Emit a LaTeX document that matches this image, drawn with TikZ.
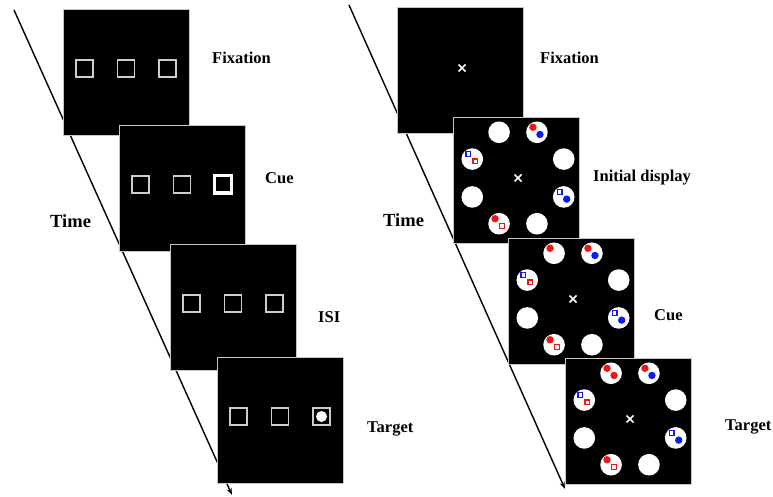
\documentclass[tikz,border=0pt]{standalone}
\usepackage{fontspec}
\setmainfont{Liberation Serif}
\usetikzlibrary{arrows.meta}
\definecolor{sred}{RGB}{240,20,20}
\definecolor{sblue}{RGB}{15,25,240}
\definecolor{sqgray}{RGB}{205,205,205}
\tikzset{
  panel/.style={fill=black, draw=gray!45, line width=0.8pt, minimum width=126pt, minimum height=126pt, inner sep=0pt},
  sq/.style={draw=sqgray, line width=1.1pt},
  thicksq/.style={draw=white, line width=3pt},
  lbl/.style={font=\bfseries\fontsize{16.5}{18}\selectfont, anchor=base west, inner sep=0pt},
  tlbl/.style={font=\bfseries\fontsize{18.5}{20}\selectfont, anchor=base west, inner sep=0pt},
  timeline/.style={line width=1.4pt, -{Stealth[length=7pt,width=5pt]}},
  xmark/.style={draw=white, line width=1.6pt},
}
\newcommand{\lsquares}[2]{\foreach \dx in {#2} \draw[sq] ([shift={(\dx-8.5,-12)}]#1.center) rectangle +(17,17);}
\newcommand{\ring}[1]{\foreach \i in {1,...,8}{\coordinate (#1c\i) at ([shift={({2+49.5*cos(45*\i-22.5)},{-2-49.5*sin(45*\i-22.5)})}]#1.center); \fill[white] (#1c\i) circle (10.8);}}
\newcommand{\sdot}[3]{\fill[#2] ([shift={(#3)}]#1) circle (3.7);}
\newcommand{\ssq}[3]{\draw[#2, line width=1.3pt] ([shift={(#3)}]#1) ++(-2.25,-2.25) rectangle ++(4.5,4.5);}
\newcommand{\fixx}[1]{\draw[xmark] ([shift={(2,-2)}]#1.center) +(-3.5,-3.5) -- +(3.5,3.5) +(-3.5,3.5) -- +(3.5,-3.5);}
\newcommand{\basestim}[1]{%
  \ring{#1}\fixx{#1}%
  \sdot{#1c2}{sred}{-4,-5}\sdot{#1c2}{sblue}{3,2.2}%
  \ssq{#1c4}{sblue}{-4,-5}\ssq{#1c4}{sred}{3,2.2}%
  \sdot{#1c6}{sred}{-4,-5}\ssq{#1c6}{sred}{3,2.2}%
  \ssq{#1c8}{sblue}{-4,-5}\sdot{#1c8}{sblue}{3,2.2}}
\begin{document}
\begin{tikzpicture}[x=1pt,y=-1pt]
\useasboundingbox (0,0) rectangle (773,497);
% time arrows (behind panels)
\coordinate (tl0) at (14,10); \coordinate (tl1) at (232,495);
\draw[timeline] (tl0) -- (tl1);
\coordinate (tr0) at (349,5); \coordinate (tr1) at (565,489);
\draw[timeline] (tr0) -- (tr1);
% left sequence
\node[panel] (L1) at (126,72) {};
\lsquares{L1}{-41.5,0,41.5}
\node[panel] (L2) at (182,188) {};
\lsquares{L2}{-41.5,0}
\draw[thicksq] ([shift={(41-8.5,-12)}]L2.center) rectangle +(17,17);
\node[panel] (L3) at (233,307) {};
\lsquares{L3}{-41.5,0,41.5}
\node[panel] (L4) at (280,420) {};
\lsquares{L4}{-41.5,0,41.5}
\fill[white] ([shift={(41.5,-3.5)}]L4.center) circle (5.5);
% right sequence
\node[panel] (R1) at (460,70) {};
\fixx{R1}
\node[panel] (R2) at (516,180) {};
\basestim{R2}
\node[panel] (R3) at (571,301) {};
\basestim{R3}
\sdot{R3c3}{sred}{-4,-5}
\node[panel] (R4) at (628,421) {};
\basestim{R4}
\sdot{R4c3}{sred}{-4,-5}\sdot{R4c3}{sred}{3,2.2}
% labels
\node[lbl] (fixL) at (212,64) {Fixation};
\node[lbl] (cueL) at (265,183) {Cue};
\node[tlbl] (timeL) at (50,227) {Time};
\node[lbl] (isiL) at (318,322) {ISI};
\node[lbl] (tarL) at (367,432) {Target};
\node[lbl] (fixR) at (540,63.5) {Fixation};
\node[lbl] (initR) at (593,182) {Initial display};
\node[tlbl] (timeR) at (383,226) {Time};
\node[lbl] (cueR) at (654,320) {Cue};
\node[lbl] (tarR) at (725,430) {Target};
\end{tikzpicture}
\end{document}
